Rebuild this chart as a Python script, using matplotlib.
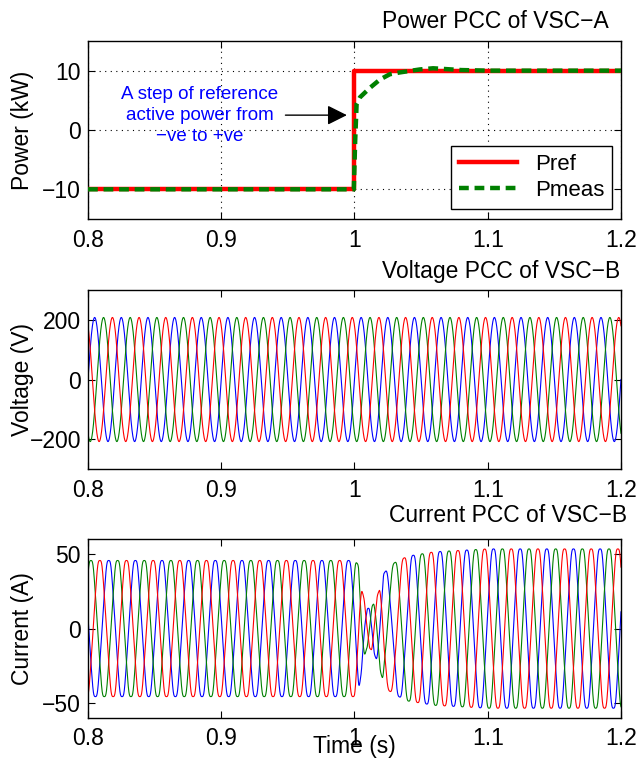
import numpy as np
import matplotlib.pyplot as plt

plt.rcParams['font.family'] = ['Liberation Sans', 'DejaVu Sans']

# common time axis
x_ticks = [0.8, 0.9, 1.0, 1.1, 1.2]
x_ticklabels = ['0.8', '0.9', '1', '1.1', '1.2']

# Power PCC of VSC-A (kW)
pref_t = [0.8, 1.0, 1.0, 1.2]
pref_v = [-10, -10, 10, 10]
pmeas_t = [0.8, 0.9995, 1.0005, 1.0016, 1.0041, 1.0116, 1.0191, 1.0266,
           1.0341, 1.049, 1.059, 1.08, 1.1, 1.2]
pmeas_v = [-10, -10, -2, 4.4, 5.5, 7.1, 8.5, 9.4, 9.7, 10.2, 10.4, 10.1, 10.0, 10.0]
power_ticks = [-10, 0, 10]
power_ticklabels = ['\u221210', '0', '10']

# three-phase waveforms (phase a, b, c drawn blue, green, red)
f_grid = 50.0
phase_shift_deg = [0, -120, 120]
phase_colors = ['#0000ff', '#008000', '#ff0000']

# Voltage PCC of VSC-B
v_amp = 208.0
volt_ticks = [-200, 0, 200]
volt_ticklabels = ['\u2212200', '0', '200']

# Current PCC of VSC-B: amplitude and phase (deg) read around the step
cur_env_t = [0.8, 1.0, 1.003, 1.006, 1.009, 1.012, 1.015, 1.018, 1.022,
             1.026, 1.031, 1.04, 1.06, 1.1, 1.2]
cur_env_amp = [47, 47, 44, 25, 14, 14, 18, 25, 38, 43, 46, 50, 53, 55, 55]
cur_env_phase = [170, 170, 180, 205, 240, 290, 340, 370, 400, 395, 385,
                 378, 374, 372, 372]
cur_harmonics = [(5, -0.015), (7, 0.01)]
cur_ticks = [-50, 0, 50]
cur_ticklabels = ['\u221250', '0', '50']

t = np.linspace(0.8, 1.2, 8001)
w = 2 * np.pi * f_grid * t

fig = plt.figure(figsize=(6.39, 7.63), dpi=100)
ax1 = fig.add_axes([0.1377, 0.7130, 0.8341, 0.2333])
ax2 = fig.add_axes([0.1377, 0.3853, 0.8341, 0.2346])
ax3 = fig.add_axes([0.1377, 0.0594, 0.8341, 0.2336])

fs = 16.5

# top panel
ax1.plot(pref_t, pref_v, color='#ff0000', lw=3.2, label='Pref', zorder=3)
ax1.plot(pmeas_t, pmeas_v, color='#008000', lw=3.2, dashes=(2.2, 1.3),
         label='Pmeas', zorder=4)
ax1.set_ylim(-15, 15)
ax1.set_yticks(power_ticks)
ax1.set_yticklabels(power_ticklabels)
ax1.grid(True, color='k', linestyle=(0, (1, 4)), lw=0.8)
ax1.set_ylabel('Power (kW)', fontsize=fs)
ax1.annotate('A step of reference\nactive power from\n\u2212ve to +ve',
             xy=(0.9943, 2.5), xytext=(0.884, 2.5), color='#0000ff',
             fontsize=13.5, ha='center', va='center', linespacing=1.3,
             arrowprops=dict(arrowstyle='-|>,head_length=0.6,head_width=0.3',
                             color='k', lw=1, mutation_scale=20, shrinkA=3, shrinkB=0))
leg = ax1.legend(loc='lower right', bbox_to_anchor=(0.983, 0.056), fontsize=16,
                 handlelength=2.6, fancybox=False, edgecolor='k', framealpha=1,
                 borderaxespad=0, labelspacing=0.25, borderpad=0.35)
leg.get_frame().set_linewidth(1.0)

# middle panel
for k in range(3):
    v = v_amp * np.sin(w + np.deg2rad(phase_shift_deg[k]))
    ax2.plot(t, v, color=phase_colors[k], lw=0.8)
ax2.set_ylim(-300, 300)
ax2.set_yticks(volt_ticks)
ax2.set_yticklabels(volt_ticklabels)
ax2.set_ylabel('Voltage (V)', fontsize=fs)

# bottom panel
amp = np.interp(t, cur_env_t, cur_env_amp)
theta = np.deg2rad(np.interp(t, cur_env_t, cur_env_phase))
for k in range(3):
    arg = w + theta + np.deg2rad(phase_shift_deg[k])
    i = np.sin(arg)
    for n, h in cur_harmonics:
        i = i + h * np.sin(n * arg)
    ax3.plot(t, amp * i, color=phase_colors[k], lw=0.8)
ax3.set_ylim(-60, 60)
ax3.set_yticks(cur_ticks)
ax3.set_yticklabels(cur_ticklabels)
ax3.set_ylabel('Current (A)', fontsize=fs)
ax3.set_xlabel('Time (s)', fontsize=fs)
ax3.xaxis.set_label_coords(0.5, -0.095)

for ax in (ax1, ax2, ax3):
    ax.set_xlim(0.8, 1.2)
    ax.set_xticks(x_ticks)
    ax.set_xticklabels(x_ticklabels)
    ax.tick_params(direction='in', top=True, right=True, length=5, width=0.8,
                   labelsize=fs)
    ax.tick_params(axis='x', pad=7)
    ax.tick_params(axis='y', pad=5)
    ax.yaxis.set_label_coords(-0.101, 0.5)
    for s in ax.spines.values():
        s.set_linewidth(1.0)

fig.text(0.7754, 0.9629, 'Power PCC of VSC\u2212A', fontsize=fs, ha='center', va='baseline')
fig.text(0.7848, 0.6356, 'Voltage PCC of VSC\u2212B', fontsize=fs, ha='center', va='baseline')
fig.text(0.7950, 0.3163, 'Current PCC of VSC\u2212B', fontsize=fs, ha='center', va='baseline')

fig.savefig('out.png', dpi=100)
